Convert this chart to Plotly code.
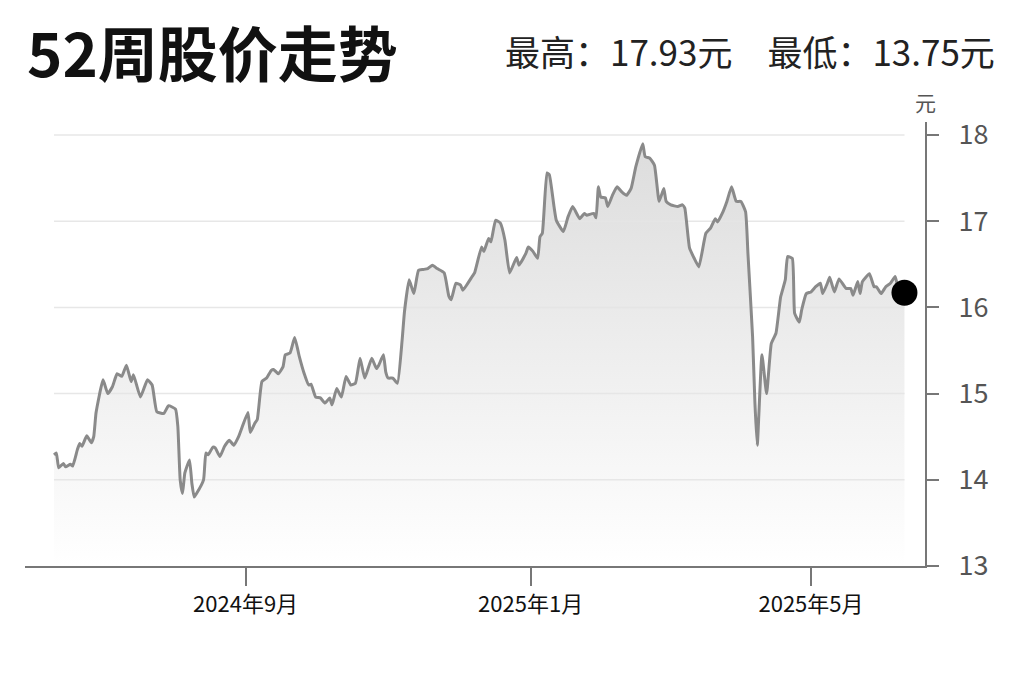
import plotly.graph_objects as go

# ---- data ----
dates = [
    "2024-06-11", "2024-06-12", "2024-06-13", "2024-06-15", "2024-06-16", "2024-06-18", "2024-06-19",
    "2024-06-21", "2024-06-22", "2024-06-23", "2024-06-25", "2024-06-27", "2024-06-28", "2024-06-29",
    "2024-07-02", "2024-07-04", "2024-07-06", "2024-07-08", "2024-07-10", "2024-07-12", "2024-07-14",
    "2024-07-15", "2024-07-18", "2024-07-21", "2024-07-23", "2024-07-25", "2024-07-28", "2024-07-30",
    "2024-08-02", "2024-08-03", "2024-08-04", "2024-08-05", "2024-08-06", "2024-08-08", "2024-08-09",
    "2024-08-10", "2024-08-11", "2024-08-14", "2024-08-15", "2024-08-16", "2024-08-18", "2024-08-19",
    "2024-08-21", "2024-08-23", "2024-08-25", "2024-08-27", "2024-08-29",
    "2024-09-02", "2024-09-03", "2024-09-05", "2024-09-06", "2024-09-08", "2024-09-10", "2024-09-12",
    "2024-09-13", "2024-09-15", "2024-09-17", "2024-09-18", "2024-09-20", "2024-09-22", "2024-09-24",
    "2024-09-26", "2024-09-28", "2024-09-29",
    "2024-10-01", "2024-10-03", "2024-10-05", "2024-10-07", "2024-10-08", "2024-10-10", "2024-10-12",
    "2024-10-14", "2024-10-16", "2024-10-18", "2024-10-20", "2024-10-22", "2024-10-25", "2024-10-27",
    "2024-10-28", "2024-10-30", "2024-10-31",
    "2024-11-01", "2024-11-03", "2024-11-05", "2024-11-07", "2024-11-08", "2024-11-10", "2024-11-12",
    "2024-11-14", "2024-11-16", "2024-11-18", "2024-11-20", "2024-11-22", "2024-11-25", "2024-11-27",
    "2024-11-28", "2024-11-30",
    "2024-12-02", "2024-12-03", "2024-12-07", "2024-12-08", "2024-12-11", "2024-12-12", "2024-12-14",
    "2024-12-15", "2024-12-17", "2024-12-19", "2024-12-21", "2024-12-23", "2024-12-26", "2024-12-27",
    "2024-12-30", "2024-12-31",
    "2025-01-02", "2025-01-04", "2025-01-05", "2025-01-06", "2025-01-08", "2025-01-09", "2025-01-11",
    "2025-01-12", "2025-01-15", "2025-01-17", "2025-01-19", "2025-01-22", "2025-01-24", "2025-01-25",
    "2025-01-28", "2025-01-29", "2025-01-30", "2025-01-31",
    "2025-02-02", "2025-02-03", "2025-02-05", "2025-02-07", "2025-02-09", "2025-02-11", "2025-02-13",
    "2025-02-15", "2025-02-18", "2025-02-19", "2025-02-21", "2025-02-23", "2025-02-25", "2025-02-27",
    "2025-02-28",
    "2025-03-02", "2025-03-05", "2025-03-07", "2025-03-08", "2025-03-10", "2025-03-12", "2025-03-14",
    "2025-03-17", "2025-03-19", "2025-03-21", "2025-03-22", "2025-03-24", "2025-03-26", "2025-03-28",
    "2025-03-30",
    "2025-04-01", "2025-04-03", "2025-04-04", "2025-04-06", "2025-04-07", "2025-04-08", "2025-04-10",
    "2025-04-12", "2025-04-14", "2025-04-16", "2025-04-18", "2025-04-20", "2025-04-21", "2025-04-23",
    "2025-04-24", "2025-04-26", "2025-04-27", "2025-04-29",
    "2025-05-01", "2025-05-03", "2025-05-05", "2025-05-06", "2025-05-08", "2025-05-09", "2025-05-11",
    "2025-05-13", "2025-05-16", "2025-05-18", "2025-05-19", "2025-05-21", "2025-05-22", "2025-05-23",
    "2025-05-26", "2025-05-28", "2025-05-29", "2025-05-31",
    "2025-06-02", "2025-06-04", "2025-06-06", "2025-06-07", "2025-06-10",
]

prices = [
    14.29, 14.31, 14.14, 14.19, 14.15, 14.18, 14.16, 14.35, 14.42, 14.39, 14.51, 14.43, 14.50, 14.78,
    15.16, 15.00, 15.08, 15.23, 15.20, 15.33, 15.14, 15.22, 14.96, 15.16, 15.10, 14.79, 14.77, 14.86,
    14.82, 14.62, 14.00, 13.84, 14.08, 14.23, 13.96, 13.80, 13.84, 14.00, 14.31, 14.29, 14.38, 14.37,
    14.27, 14.39, 14.46, 14.40, 14.50,
    14.78, 14.55, 14.66, 14.70, 15.14, 15.18, 15.27, 15.28, 15.23, 15.31, 15.45, 15.47, 15.65, 15.43,
    15.24, 15.10, 15.11,
    14.96, 14.95, 14.89, 14.95, 14.87, 15.06, 14.96, 15.20, 15.10, 15.12, 15.41, 15.18, 15.41, 15.29,
    15.33, 15.45, 15.25,
    15.18, 15.18, 15.12, 15.62, 15.95, 16.32, 16.16, 16.43, 16.44, 16.45, 16.49, 16.45, 16.40, 16.13,
    16.09, 16.28,
    16.26, 16.20, 16.36, 16.40, 16.70, 16.65, 16.80, 16.76, 17.01, 16.98, 16.78, 16.40, 16.58, 16.49,
    16.63, 16.70,
    16.65, 16.57, 16.82, 16.86, 17.56, 17.54, 17.17, 17.01, 16.88, 17.05, 17.17, 17.03, 17.09, 17.07,
    17.09, 17.04, 17.40, 17.28,
    17.27, 17.17, 17.30, 17.40, 17.34, 17.30, 17.38, 17.63, 17.90, 17.75, 17.73, 17.65, 17.23, 17.38,
    17.23,
    17.19, 17.17, 17.19, 17.15, 16.69, 16.57, 16.47, 16.86, 16.92, 17.03, 16.99, 17.09, 17.23, 17.40,
    17.23,
    17.23, 17.11, 16.63, 15.66, 14.89, 14.40, 15.45, 15.00, 15.58, 15.70, 16.12, 16.32, 16.59, 16.57,
    15.93, 15.83, 15.97, 16.16,
    16.18, 16.24, 16.28, 16.16, 16.28, 16.35, 16.18, 16.33, 16.22, 16.22, 16.14, 16.30, 16.16, 16.30,
    16.39, 16.24, 16.24, 16.16,
    16.24, 16.28, 16.36, 16.26, 16.17,
]

x_tick_vals = ["2024-09-01", "2025-01-01", "2025-05-01"]
x_tick_text = ["2024年9月", "2025年1月", "2025年5月"]
y_tick_vals = [13, 14, 15, 16, 17, 18]
grid_vals = [14, 15, 16, 17, 18]

title_text = "52周股价走势"
high_text = "最高：17.93元"
low_text = "最低：13.75元"
unit_text = "元"

FONT = "Noto Sans CJK SC"

fig = go.Figure()

# gradient area under the line
fig.add_trace(go.Scatter(
    x=dates, y=prices, mode="lines", fill="tozeroy",
    line=dict(width=0, color="rgba(0,0,0,0)"),
    fillgradient=dict(type="vertical", start=13, stop=18,
                      colorscale=[[0, "rgba(255,255,255,1)"], [1, "rgba(220,220,220,1)"]]),
    hoverinfo="skip", showlegend=False,
))

# horizontal grid lines spanning the data range
for gv in grid_vals:
    fig.add_trace(go.Scatter(
        x=[dates[0], dates[-1]], y=[gv, gv], mode="lines",
        line=dict(color="rgba(228,228,228,0.9)", width=1.5),
        hoverinfo="skip", showlegend=False,
    ))

# price line
fig.add_trace(go.Scatter(
    x=dates, y=prices, mode="lines",
    line=dict(color="#8a8a8a", width=3, shape="spline", smoothing=0.4),
    showlegend=False,
))

# last price dot
fig.add_trace(go.Scatter(
    x=[dates[-1]], y=[prices[-1]], mode="markers",
    marker=dict(color="black", size=26),
    showlegend=False,
))

fig.update_layout(
    width=1024, height=682, autosize=False,
    margin=dict(l=25, r=99, t=122, b=116),
    paper_bgcolor="white", plot_bgcolor="white",
    font=dict(family=FONT, color="#222"),
    xaxis=dict(
        type="date",
        range=["2024-05-29 14:00", "2025-06-18 19:00"],
        tickvals=x_tick_vals, ticktext=x_tick_text,
        showline=True, linecolor="#777", linewidth=2,
        ticks="outside", ticklen=18, tickwidth=1.5, tickcolor="#777",
        tickfont=dict(size=22, color="#111", family=FONT),
        showgrid=False, zeroline=False,
    ),
    yaxis=dict(
        side="right", range=[13, 18.151],
        tickvals=y_tick_vals,
        showline=True, linecolor="#777", linewidth=2,
        ticks="outside", ticklen=12, tickwidth=2, tickcolor="#777",
        ticklabelstandoff=14,
        tickfont=dict(size=27, color="#555", family=FONT),
        showgrid=False, zeroline=False,
    ),
    annotations=[
        dict(text="<b>" + title_text + "</b>", xref="paper", yref="paper",
             x=0, y=1.16, xanchor="left", yanchor="middle", showarrow=False,
             font=dict(size=60, color="#111", family=FONT)),
        dict(text=high_text + "\u3000" + low_text, xref="paper", yref="paper",
             x=1.08, y=1.162, xanchor="right", yanchor="middle", showarrow=False,
             font=dict(size=35, color="#222", family=FONT)),
        dict(text=unit_text, xref="paper", yref="paper",
             x=1.0, y=1.045, xanchor="center", yanchor="middle", showarrow=False,
             font=dict(size=21, color="#555", family=FONT)),
    ],
)

fig.write_html("out.html", config={"displayModeBar": False},
               post_script="document.body.style.margin='0';")
